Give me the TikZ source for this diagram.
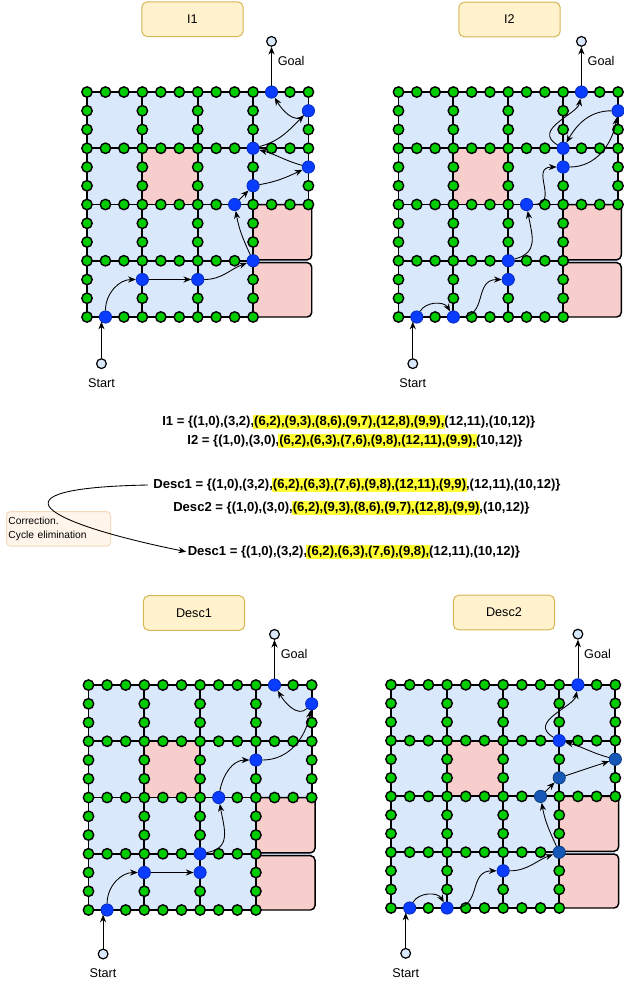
\documentclass[tikz,border=0pt]{standalone}
\usepackage{fontspec}
\setmainfont{Liberation Sans}
\usetikzlibrary{positioning,arrows.meta}

\definecolor{floorblue}{HTML}{DAE8FC}
\definecolor{wallpink}{HTML}{F8CECC}
\definecolor{spotgreen}{HTML}{00CC00}
\definecolor{visitblue}{HTML}{0A3CFF}
\definecolor{visitdark}{HTML}{1658B8}
\definecolor{headfill}{HTML}{FFF2CC}
\definecolor{headline}{HTML}{D6B656}
\definecolor{notefill}{HTML}{FFF5EB}
\definecolor{noteline}{HTML}{F5D9BC}
\definecolor{hlyellow}{HTML}{FFFF33}

\tikzset{
  floorfill/.style={fill=floorblue},
  roomfill/.style={fill=wallpink},
  blockroom/.style={fill=wallpink, draw=black, line width=1.1pt, rounded corners=3.5pt},
  gridline/.style={draw=black, line width=1.4pt},
  spot/.style={circle, draw=black, fill=spotgreen, line width=1.05pt, minimum size=7.8pt, inner sep=0pt},
  visit/.style={circle, draw=visitblue!75!black, fill=visitblue, line width=0.6pt, minimum size=9.2pt, inner sep=0pt},
  visitdk/.style={visit, fill=visitdark, draw=visitdark!70!black},
  endpt/.style={circle, draw=black, fill=floorblue, line width=0.9pt, minimum size=7.3pt, inner sep=0pt},
  hop/.style={-{Stealth[length=5.8pt,width=4.6pt]}, line width=0.65pt},
  lbl/.style={inner sep=1pt, font=\fontsize{9.5}{11}\selectfont},
  headbox/.style={draw=headline, fill=headfill, rounded corners=4pt, line width=0.75pt,
    minimum width=76pt, minimum height=26pt, font=\fontsize{9.5}{11}\selectfont},
  seqtext/.style={inner sep=1pt, font=\fontsize{9.8}{12}\selectfont\bfseries},
  notebox/.style={draw=noteline, fill=notefill, rounded corners=3pt, line width=0.75pt,
    text width=75pt, inner xsep=1.5pt, minimum height=26pt, align=left,
    font=\fontsize{7.7}{10}\selectfont}
}

% one room map: blue cells, pink rooms, grid lines and the green way points
\newcommand{\roomgrid}[1]{%
  \fill[floorfill] (0,0) rectangle (12,12);
  \fill[roomfill] (3,6) rectangle (6,9);
  \draw[blockroom] (9,0) rectangle (12.18,2.9);
  \draw[blockroom] (9,3.05) rectangle (12.18,6);
  \draw[gridline] (0,0) -- (9,0) (0,3) -- (9,3) (0,6) -- (12,6) (0,9) -- (12,9) (0,12) -- (12,12)
    (0,0) -- (0,12) (3,0) -- (3,12) (6,0) -- (6,12) (9,0) -- (9,12) (12,6) -- (12,12);
  \foreach \i in {0,...,12}
    \foreach \j in {0,...,12}{
      \pgfmathtruncatemacro{\onl}{(mod(\i,3)==0 || mod(\j,3)==0) && !(\i>9 && \j<6)}
      \ifnum\onl=1 \node[spot] (#1-\i-\j) at (\i,\j) {};\fi
    }%
}

\newcommand{\hlseq}[1]{{\setlength{\fboxsep}{0.6pt}\kern-0.6pt\colorbox{hlyellow}{#1}\kern-0.6pt}}

\begin{document}
\begin{tikzpicture}[x=0.75pt,y=0.75pt]
  \useasboundingbox (0,0) rectangle (624,-982);

  \node[headbox] (i1head) at (192.5,-19.2) {I1};
  \node[headbox] (i2head) at (509.5,-19.5) {I2};
  \node[headbox] (d1head) at (194,-613) {Desc1};
  \node[headbox] (d2head) at (504,-612.5) {Desc2};

  % I1
  \begin{scope}[shift={(87,-317)}, x=13.84pt, y=14.06pt]
    \roomgrid{a}
    \foreach \x/\y in {1/0,3/2,6/2,9/3,8/6,9/7,12/8,9/9,12/11,10/12}
      \node[visit] (av\x-\y) at (\x,\y) {};
    \node[endpt, below=26pt of av1-0, xshift=-3pt] (astart) {};
    \node[lbl, below=6pt of astart] (astartlbl) {Start};
    \node[endpt, above=29pt of av10-12] (agoal) {};
    \node[lbl, anchor=west] (agoallbl) at ([xshift=3.5pt,yshift=-15pt]agoal.center) {Goal};
    \draw[hop] (astart) -- (astart |- av1-0.south west);
    \draw[hop] (av1-0) to[out=90,in=180] (av3-2);
    \draw[hop] (av3-2) -- (av6-2);
    \draw[hop] (av6-2) to[out=0,in=200] (av9-3);
    \draw[hop] (av9-3) to[out=115,in=-80] (av8-6);
    \draw[hop] (av8-6) -- (av9-7);
    \draw[hop] (av9-7) to[out=10,in=205] (av12-8);
    \draw[hop] (av12-8) to[out=165,in=-15] (av9-9);
    \draw[hop] (av9-9) to[out=15,in=225] (av12-11);
    \draw[hop] (av12-11) to[out=225,in=-60] (av10-12);
    \draw[hop] (av10-12) -- (agoal);
  \end{scope}

  % I2
  \begin{scope}[shift={(398.5,-317)}, x=13.72pt, y=14.06pt]
    \roomgrid{b}
    \foreach \x/\y in {1/0,3/0,6/2,6/3,7/6,9/8,12/11,9/9,10/12}
      \node[visit] (bv\x-\y) at (\x,\y) {};
    \node[endpt, below=26pt of bv1-0, xshift=-3pt] (bstart) {};
    \node[lbl, below=6pt of bstart] (bstartlbl) {Start};
    \node[endpt, above=29pt of bv10-12] (bgoal) {};
    \node[lbl, anchor=west] (bgoallbl) at ([xshift=3.5pt,yshift=-15pt]bgoal.center) {Goal};
    \draw[hop] (bstart) -- (bstart |- bv1-0.south west);
    \draw[hop] (bv1-0) to[out=60,in=120] (bv3-0);
    \draw[hop] (bv3-0) to[out=0,in=180,looseness=1.3] (bv6-2);
    \draw[hop] (bv6-3) to[out=15,in=-80,looseness=1.3] (bv7-6);
    \draw[hop] (bv7-6) to[out=0,in=180,looseness=1.6] (bv9-8);
    \draw[hop] (bv9-8) to[out=0,in=-100] (bv12-11);
    \draw[hop] (bv12-11) to[out=180,in=60] (bv9-9);
    \draw[hop] (bv9-9) .. controls +(150:2) and +(-100:1.2) .. (bv10-12);
    \draw[hop] (bv10-12) -- (bgoal);
  \end{scope}

  % sequences
  \node[seqtext] (i1seq) at (348.8,-421.7)
    {I1 = \{(1,0),(3,2),\hlseq{(6,2),(9,3),(8,6),(9,7),(12,8),(9,9),}(12,11),(10,12)\}};
  \node[seqtext] (i2seq) at (355,-441)
    {I2 = \{(1,0),(3,0),\hlseq{(6,2),(6,3),(7,6),(9,8),(12,11),(9,9),}(10,12)\}};
  \node[seqtext] (desctop) at (357,-485)
    {Desc1 = \{(1,0),(3,2),\hlseq{(6,2),(6,3),(7,6),(9,8),(12,11),(9,9)},(12,11),(10,12)\}};
  \node[seqtext] (desctwo) at (351.4,-508.3)
    {Desc2 = \{(1,0),(3,0),\hlseq{(6,2),(9,3),(8,6),(9,7),(12,8),(9,9)},(10,12)\}};
  \node[seqtext] (descfix) at (353.9,-551.7)
    {Desc1 = \{(1,0),(3,2),\hlseq{(6,2),(6,3),(7,6),(9,8),}(12,11),(10,12)\}};

  \node[notebox, anchor=north west] (fixnote) at (6,-511) {Correction.\\Cycle elimination};
  \draw[hop] ([xshift=-3pt]desctop.west) .. controls (-15,-488) and (40,-522) .. (descfix.west);

  % Desc1
  \begin{scope}[shift={(88.5,-910)}, x=13.95pt, y=14.06pt]
    \roomgrid{c}
    \foreach \x/\y in {1/0,3/2,6/2,6/3,7/6,9/8,12/11,10/12}
      \node[visit] (cv\x-\y) at (\x,\y) {};
    \node[endpt, below=24pt of cv1-0, xshift=-3pt] (cstart) {};
    \node[lbl, below=6pt of cstart] (cstartlbl) {Start};
    \node[endpt, above=29pt of cv10-12] (cgoal) {};
    \node[lbl, anchor=west] (cgoallbl) at ([xshift=3.5pt,yshift=-15pt]cgoal.center) {Goal};
    \draw[hop] (cstart) -- (cstart |- cv1-0.south west);
    \draw[hop] (cv1-0) to[out=90,in=180] (cv3-2);
    \draw[hop] (cv3-2) -- (cv6-2);
    \draw[hop] (cv6-3) to[out=10,in=-80,looseness=1.3] (cv7-6);
    \draw[hop] (cv7-6) to[out=80,in=180] (cv9-8);
    \draw[hop] (cv9-8) to[out=0,in=-100] (cv12-11);
    \draw[hop] (cv12-11) to[out=225,in=-60] (cv10-12);
    \draw[hop] (cv10-12) -- (cgoal);
  \end{scope}

  % Desc2
  \begin{scope}[shift={(391,-908)}, x=14.02pt, y=13.95pt]
    \roomgrid{d}
    \foreach \x/\y in {1/0,3/0,6/2,9/9,10/12}
      \node[visit] (dv\x-\y) at (\x,\y) {};
    \foreach \x/\y in {9/3,8/6,9/7,12/8}
      \node[visitdk] (dv\x-\y) at (\x,\y) {};
    \node[endpt, below=25pt of dv1-0, xshift=-3pt] (dstart) {};
    \node[lbl, below=6pt of dstart] (dstartlbl) {Start};
    \node[endpt, above=29pt of dv10-12] (dgoal) {};
    \node[lbl, anchor=west] (dgoallbl) at ([xshift=3.5pt,yshift=-15pt]dgoal.center) {Goal};
    \draw[hop] (dstart) -- (dstart |- dv1-0.south west);
    \draw[hop] (dv1-0) to[out=60,in=120] (dv3-0);
    \draw[hop] (dv3-0) to[out=0,in=180,looseness=1.3] (dv6-2);
    \draw[hop] (dv6-2) to[out=0,in=200] (dv9-3);
    \draw[hop] (dv9-3) to[out=115,in=-80] (dv8-6);
    \draw[hop] (dv8-6) -- (dv9-7);
    \draw[hop] (dv9-7) -- (dv12-8);
    \draw[hop] (dv12-8) to[out=165,in=-15] (dv9-9);
    \draw[hop] (dv9-9) .. controls +(150:2) and +(-100:1.2) .. (dv10-12);
    \draw[hop] (dv10-12) -- (dgoal);
  \end{scope}
\end{tikzpicture}
\end{document}
